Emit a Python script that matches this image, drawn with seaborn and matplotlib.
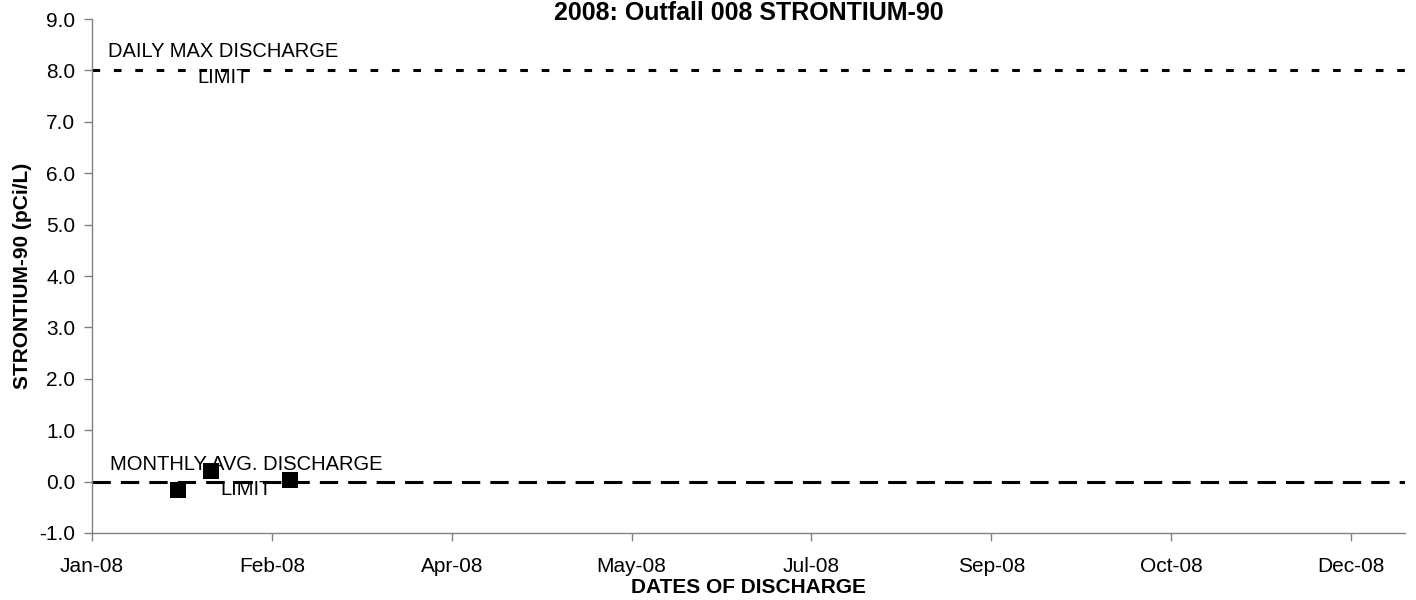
import matplotlib
matplotlib.use("Agg")
import matplotlib.pyplot as plt
import matplotlib.dates as mdates
import seaborn as sns
import pandas as pd
import numpy as np

# ---- data ----
sample_dates = ["2008-01-25", "2008-02-03", "2008-02-25"]
sr90_values = [-0.16, 0.21, 0.03]
daily_max_limit = 8.0
monthly_avg_limit = 0.0
title = "2008: Outfall 008 STRONTIUM-90"
x_label = "DATES OF DISCHARGE"
y_label = "STRONTIUM-90 (pCi/L)"
daily_label = "DAILY MAX DISCHARGE\nLIMIT"
monthly_label = "MONTHLY AVG. DISCHARGE\nLIMIT"

df = pd.DataFrame({"date": pd.to_datetime(sample_dates), "value": sr90_values})

sns.set_style("white")
plt.rcParams['font.family'] = ['Liberation Sans', 'DejaVu Sans']
plt.rcParams['text.color'] = 'black'
plt.rcParams['axes.labelcolor'] = 'black'
plt.rcParams['xtick.color'] = 'black'
plt.rcParams['ytick.color'] = 'black'

fig = plt.figure(figsize=(14.16, 6.0), dpi=100)
ax = fig.add_axes([0.065, 0.1117, 0.9272, 0.8566])

ax.axhline(daily_max_limit, color="black", lw=2.2, dashes=(2.5, 4.5),
           dash_capstyle="butt", zorder=2)
ax.axhline(monthly_avg_limit, color="black", lw=2.2, dashes=(6, 3.3),
           dash_capstyle="butt", zorder=2)

sns.scatterplot(data=df, x="date", y="value", marker="s", color="black",
                s=125, edgecolor="black", linewidth=0, ax=ax, zorder=4)

start = pd.Timestamp("2008-01-01")
ax.set_xlim(mdates.date2num(start), mdates.date2num(pd.Timestamp("2008-12-31")))
ticks = [start + pd.Timedelta(days=50 * i) for i in range(8)]
ax.set_xticks(mdates.date2num(ticks))
ax.xaxis.set_major_formatter(mdates.DateFormatter("%b-%y"))
ax.set_ylim(-1.0, 9.0)
ax.set_yticks(np.arange(-1.0, 9.01, 1.0))
ax.yaxis.set_major_formatter(matplotlib.ticker.FormatStrFormatter("%.1f"))

ax.text(mdates.date2num(pd.Timestamp("2008-02-06 12:00")), 8.12, daily_label,
        ha="center", va="center", multialignment="center", fontsize=14.5,
        linespacing=1.45, zorder=3, color="black")
ax.text(mdates.date2num(pd.Timestamp("2008-02-12 20:00")), 0.09, monthly_label,
        ha="center", va="center", multialignment="center", fontsize=14.5,
        linespacing=1.45, zorder=3, color="black")

for s in ["top", "right"]:
    ax.spines[s].set_visible(False)
for s in ["left", "bottom"]:
    ax.spines[s].set_color("#808080")
    ax.spines[s].set_linewidth(1.0)
ax.tick_params(axis="both", which="major", direction="out", length=6, width=1,
               color="#808080", labelcolor="black", labelsize=15,
               bottom=True, left=True)
ax.tick_params(axis="x", pad=11)
ax.tick_params(axis="y", pad=6)

ax.set_xlabel(x_label, fontsize=15, fontweight="bold", labelpad=2, color="black")
ax.set_ylabel(y_label, fontsize=15, fontweight="bold", labelpad=5, color="black")
ax.set_title(title, fontsize=18, fontweight="bold", pad=-1, y=1.0, color="black")

fig.savefig("out.png", dpi=100)
